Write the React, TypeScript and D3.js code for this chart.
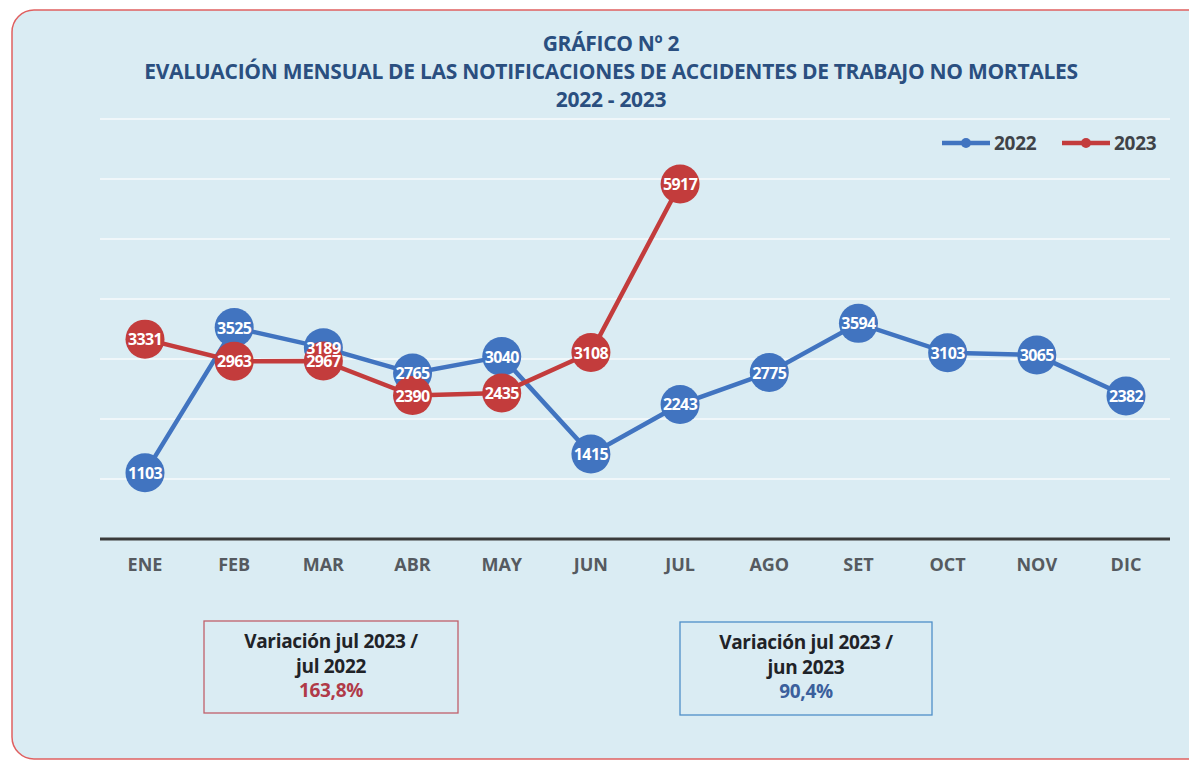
import React from "react";
import * as d3 from "d3";

const months = ["ENE", "FEB", "MAR", "ABR", "MAY", "JUN", "JUL", "AGO", "SET", "OCT", "NOV", "DIC"];
const values2022 = [1103, 3525, 3189, 2765, 3040, 1415, 2243, 2775, 3594, 3103, 3065, 2382];
const values2023 = [3331, 2963, 2967, 2390, 2435, 3108, 5917];
const gridTicks = [1000, 2000, 3000, 4000, 5000, 6000, 7000];
const titleLines = ["GRÁFICO Nº 2", "EVALUACIÓN MENSUAL DE LAS NOTIFICACIONES DE ACCIDENTES DE TRABAJO NO MORTALES", "2022 - 2023"];

const W = 1189, H = 761;
const BLUE = "#4174c0";
const RED = "#c33c3c";
const FONT = "'Open Sans', 'Noto Sans', sans-serif";

export default function App() {
  const x = d3.scalePoint<string>().domain(months).range([145, 1126]);
  const y = d3.scaleLinear().domain([0, 7000]).range([539, 119]);
  const line = d3.line<number>().x((_, i) => x(months[i]) as number).y((d) => y(d));

  const series = [
    { name: "2022", color: BLUE, values: values2022 },
    { name: "2023", color: RED, values: values2023 },
  ];

  return (
    <svg width={W} height={H} style={{ position: "absolute", left: 0, top: 0, background: "#fff" }} fontFamily={FONT}>
      <rect x={12} y={10} width={1200} height={749} rx={22} ry={22} fill="#daecf3" stroke="#e06060" strokeWidth={1.5} />
      {titleLines.map((t, i) => (
        <text key={i} x={611} y={51 + i * 28} textAnchor="middle" fontSize={21} fontWeight={700} fill="#2a4f80" letterSpacing={-0.3}>
          {t}
        </text>
      ))}
      {gridTicks.map((t) => (
        <line key={t} x1={100} x2={1170} y1={y(t)} y2={y(t)} stroke="#ffffff" strokeWidth={1.5} opacity={0.8} />
      ))}
      <line x1={100} x2={1170} y1={y(0)} y2={y(0)} stroke="#3a3a3a" strokeWidth={3} />
      {months.map((m) => (
        <text key={m} x={x(m)} y={571} textAnchor="middle" fontSize={18} fontWeight={700} fill="#555a60">
          {m}
        </text>
      ))}
      {series.map((s) => (
        <g key={s.name}>
          <path d={line(s.values) || ""} fill="none" stroke={s.color} strokeWidth={4.5} />
          {s.values.map((v, i) => (
            <circle key={i} cx={x(months[i])} cy={y(v)} r={19.5} fill={s.color} />
          ))}
        </g>
      ))}
      {series.map((s) => (
        <g key={s.name + "l"}>
          {s.values.map((v, i) => (
            <text key={i} x={x(months[i])} y={y(v) + 6} textAnchor="middle" fontSize={16} fontWeight={700} fill="#fff" letterSpacing={-0.6}>
              {v}
            </text>
          ))}
        </g>
      ))}
      {series.map((s, i) => {
        const lx = 942 + i * 120;
        return (
          <g key={s.name}>
            <line x1={lx} x2={lx + 48} y1={143} y2={143} stroke={s.color} strokeWidth={4.5} />
            <circle cx={lx + 24} cy={143} r={5} fill={s.color} />
            <text x={lx + 52} y={150} fontSize={19} fontWeight={700} fill="#3f4348" letterSpacing={-0.3}>
              {s.name}
            </text>
          </g>
        );
      })}
      <rect x={204} y={621} width={254} height={92} fill="none" stroke="#c0606a" strokeWidth={1.3} />
      <text x={331} y={648} textAnchor="middle" fontSize={19} fontWeight={700} fill="#1f2328" letterSpacing={-0.3}>Variación jul 2023 /</text>
      <text x={331} y={673} textAnchor="middle" fontSize={19} fontWeight={700} fill="#1f2328" letterSpacing={-0.3}>jul 2022</text>
      <text x={331} y={697} textAnchor="middle" fontSize={19} fontWeight={700} fill="#b03a48" letterSpacing={-0.3}>163,8%</text>
      <rect x={680} y={622} width={252} height={93} fill="none" stroke="#4f8fc8" strokeWidth={1.3} />
      <text x={806} y={649} textAnchor="middle" fontSize={19} fontWeight={700} fill="#1f2328" letterSpacing={-0.3}>Variación jul 2023 /</text>
      <text x={806} y={674} textAnchor="middle" fontSize={19} fontWeight={700} fill="#1f2328" letterSpacing={-0.3}>jun 2023</text>
      <text x={806} y={698} textAnchor="middle" fontSize={19} fontWeight={700} fill="#3b5f9c" letterSpacing={-0.3}>90,4%</text>
    </svg>
  );
}
